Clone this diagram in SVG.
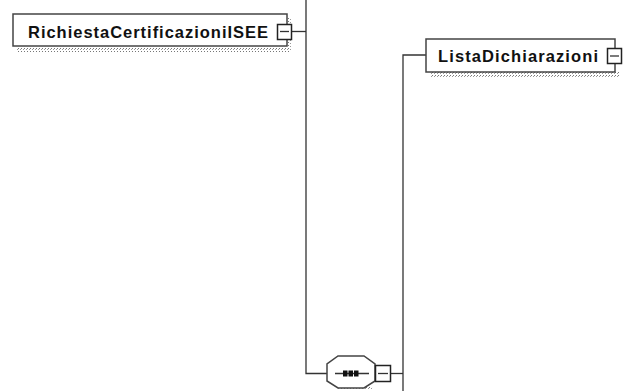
<svg xmlns="http://www.w3.org/2000/svg" width="624" height="391" viewBox="0 0 624 391">
<defs>
<pattern id="dots" width="3" height="3" patternUnits="userSpaceOnUse">
<rect width="3" height="3" fill="#fff"/>
<rect x="0" y="0" width="1" height="1" fill="#777"/>
<rect x="2" y="1" width="1" height="1" fill="#999"/>
</pattern>
</defs>
<style>
.box{fill:#fff;stroke:#444;stroke-width:1.5}
.shadow{fill:url(#dots)}
.lbl{font-family:"Liberation Sans",Arial,sans-serif;font-weight:bold;font-size:16.5px;fill:#111}
.exp{fill:#fff;stroke:#222;stroke-width:1.5}
.ln{fill:none;stroke:#333;stroke-width:1.3}
</style>
<rect width="624" height="391" fill="#fff"/>
<g id="connectors">
<path class="ln" d="M292 31.5 H306"/>
<path class="ln" d="M306 0 V373.5 H327"/>
<path class="ln" d="M391 373.5 H403"/>
<path class="ln" d="M403 391 V55 H426"/>
</g>
<g id="RichiestaCertificazioniISEE">
<rect class="shadow" x="17" y="47" width="274" height="5"/>
<rect class="shadow" x="288" y="18" width="3" height="30"/>
<rect class="box" x="13" y="14" width="274" height="32"/>
<text class="lbl" x="28" y="38" textLength="240" lengthAdjust="spacing">RichiestaCertificazioniISEE</text>
<rect class="exp" x="277.5" y="24.5" width="14" height="15"/>
<path class="ln" d="M280 31.5 H289"/>
</g>
<g id="ListaDichiarazioni">
<rect class="shadow" x="430" y="72" width="190" height="5"/>
<rect class="box" x="426" y="39" width="189" height="33"/>
<text class="lbl" x="438" y="62" textLength="160" lengthAdjust="spacing">ListaDichiarazioni</text>
<rect class="exp" x="607.5" y="48.5" width="14" height="15"/>
<path class="ln" d="M610 56 H619"/>
</g>
<g id="sequence">
<path class="shadow" d="M340 383 H368 L374 390 H336 Z"/>
<path class="box" d="M338 356 H364 L375 364 V381 L364 388 H338 L327 381 V364 Z"/>
<path class="ln" d="M335 373.5 H369"/>
<rect x="343" y="370.5" width="4.5" height="6" fill="#111"/>
<rect x="348.5" y="370.5" width="4.5" height="6" fill="#111"/>
<rect x="354" y="370.5" width="4.5" height="6" fill="#111"/>
<rect class="exp" x="375.5" y="365.5" width="15" height="16"/>
<path class="ln" d="M378 373.5 H388"/>
</g>
</svg>
